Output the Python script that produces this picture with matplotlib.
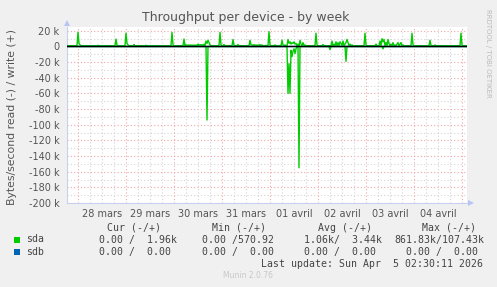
import numpy as np
import matplotlib
matplotlib.use("Agg")
import matplotlib.pyplot as plt
from matplotlib.patches import Polygon, Rectangle

# ---------------- data (hours since 27 mars 00:00, values in kB/s) ----------------
t_start, t_end, step = 18.5, 218.5, 0.5

write_base = 1.0
write_t = [24.0, 24.5, 25, 34, 43, 43.5, 48, 48.5, 49, 52, 58, 71, 71.5, 77, 78, 79, 80, 81, 82, 83,
           84, 85, 86, 87, 88, 88.5, 89, 89.5, 90, 95, 95.5, 97, 101.5, 102, 104, 110, 110.5,
           111, 112, 113, 114, 115, 116, 118, 119.5, 120, 122.5, 126, 126.5, 127.5,
           129, 129.5, 130, 130.5, 131, 131.5, 132, 132.5, 133, 134, 135, 135.5, 136.5, 137.5,
           143, 143.5, 146.5, 151, 152, 153, 154, 155, 155.5, 156.5, 157.5, 158, 158.5, 159, 160, 161,
           167.5, 168, 173, 175, 176, 176.5, 177, 178, 179, 179.5, 180.5, 181.5, 182.5, 183.5, 184,
           185, 185.5, 186.5, 191, 191.5, 200, 200.5, 202.5, 215.5, 216]
write_v = [18, 4, 2, 1.5, 9.5, 1.5, 17, 4, 2, 2.5, 1.5, 18, 2, 9.5, 2, 2, 2, 2, 2, 2,
           3, 2.5, 2.5, 3, 7, 4, 8, 5, 2, 18, 2, 2.5, 9, 1.5, 2.5, 8, 2,
           2, 2.5, 2, 2, 2.5, 2, 1.5, 19, 2, 2, 8, 2, 2,
           9, 4, 6, 3, 5, 4, 6, 3, 4, 3, 8, 3, 5, 2,
           17, 2, 2.5, 7, 3, 6, 5, 6, 4, 7, 3, 5, 9, 5, 3, 2,
           17, 2, 3, 7, 10, 6, 9, 5, 9, 4, 3, 5, 2, 3, 5,
           3, 5, 2, 17, 2, 8, 1.5, 2, 17, 2]

read_base = 0.0
read_t = [88.5, 129, 129.5, 130, 130.5, 131, 131.5, 132, 132.5, 133, 134.5, 150, 158, 176.5]
read_v = [-94, -60, -22, -60, -5, -13, -6, -3, -9, -3, -155, -4, -19, -3]

sdb_v = 0.0

day_labels = ["28 mars", "29 mars", "30 mars", "31 mars", "01 avril", "02 avril", "03 avril", "04 avril"]
y_ticks = [20, 0, -20, -40, -60, -80, -100, -120, -140, -160, -180, -200]

legend_names = ["sda", "sdb"]
legend_colors = ["#00CC00", "#0066B3"]
legend_cur = ["0.00 /  1.96k", "0.00 /  0.00"]
legend_min = ["0.00 /570.92", "0.00 /  0.00"]
legend_avg = ["1.06k/  3.44k", "0.00 /  0.00"]
legend_max = ["861.83k/107.43k", "  0.00 /  0.00"]
headers = ["Cur (-/+)", "Min (-/+)", "Avg (-/+)", "Max (-/+)"]

# ---------------- build series on 30-min grid ----------------
grid = np.arange(t_start, t_end + step / 2, step)
write = np.full(grid.shape, write_base)
read = np.full(grid.shape, read_base)
for t, v in zip(write_t, write_v):
    write[int(round((t - t_start) / step))] = v
for t, v in zip(read_t, read_v):
    read[int(round((t - t_start) / step))] = v
sdb = np.full(grid.shape, sdb_v)

# ---------------- figure ----------------
W, H = 497, 287
fig = plt.figure(figsize=(W / 100, H / 100), dpi=100)
fig.patch.set_facecolor("#F0F0F0")

def fx(px):
    return px / W

def fy(py):
    return 1 - py / H

ax = fig.add_axes([fx(67), fy(203), 400 / W, 176 / H])
ax.set_facecolor("white")
ax.set_xlim(t_start, t_end)
ax.set_ylim(-200, 24.9)

# grid
minor_c = "#D4D4D4"
major_c = "#F0A8A8"
dot = (0, (1, 2))
for yy in range(-190, 25, 10):
    if yy == 0:
        continue
    c = major_c if yy % 20 == 0 else minor_c
    ax.axhline(yy, color=c, lw=0.8, ls=dot, zorder=1)
ax.axhline(-200, color=major_c, lw=0.8, ls=dot, zorder=1)
for tt in np.arange(24, t_end, 6):
    c = major_c if tt % 24 == 0 else minor_c
    ax.axvline(tt, color=c, lw=0.8, ls=dot, zorder=1)

# data
ax.plot(grid, read, color="#00CC00", lw=1.0, zorder=3)
ax.plot(grid, write, color="#00CC00", lw=1.0, zorder=3)
ax.plot(grid, sdb, color="#0066B3", lw=1.0, zorder=3)
ax.axhline(0, color="black", lw=1.0, zorder=4)

# axes styling
for s in ["top", "right"]:
    ax.spines[s].set_visible(False)
for s in ["left", "bottom"]:
    ax.spines[s].set_color("#C8D0F0")
    ax.spines[s].set_linewidth(0.8)

txt_c = "#555555"
ax.set_yticks(y_ticks)
ax.set_yticklabels([("%d k" % v) if v != 0 else "0" for v in y_ticks])
ax.set_xticks([36 + 24 * i for i in range(len(day_labels))])
ax.set_xticklabels(day_labels)
ax.tick_params(axis="both", length=0, labelsize=7, colors=txt_c)
ax.tick_params(axis="y", pad=5.5)
ax.tick_params(axis="x", pad=4)

# arrows
arrow_c = "#B8C4F4"
fig.patches.append(Polygon([[fx(67), fy(20)], [fx(64), fy(26)], [fx(70), fy(26)]],
                           closed=True, transform=fig.transFigure, color=arrow_c, lw=0))
fig.patches.append(Polygon([[fx(474), fy(203)], [fx(468), fy(200)], [fx(468), fy(206)]],
                           closed=True, transform=fig.transFigure, color=arrow_c, lw=0))

# titles
fig.text(fx(246), fy(18), "Throughput per device - by week", ha="center", va="center",
         fontsize=9, color="#555555")
fig.text(fx(12), fy(117), "Bytes/second read (-) / write (+)", ha="center", va="center",
         rotation=90, fontsize=7.8, color=txt_c)
fig.text(fx(488), fy(53), "RRDTOOL / TOBI OETIKER", ha="center", va="center",
         rotation=270, fontsize=5, color="#BBBBBB")

# legend
mono = "DejaVu Sans Mono"
leg_c = "#444444"
hdr_x = [107, 212, 318, 422]
for h, x in zip(headers, hdr_x):
    fig.text(fx(x), fy(228), h, ha="left", va="center", fontsize=7.1, family=mono, color=leg_c)
col_x = [99, 202, 304, 394]
for i, name in enumerate(legend_names):
    yy = 239.5 + 12.3 * i
    fig.patches.append(Rectangle((fx(14), fy(yy + 3)), 6 / W, 6 / H,
                                 transform=fig.transFigure, color=legend_colors[i], lw=0))
    fig.text(fx(26), fy(yy), name, ha="left", va="center", fontsize=7.1, family=mono, color=leg_c)
    vals = [legend_cur[i], legend_min[i], legend_avg[i], legend_max[i]]
    for v, x in zip(vals, col_x):
        fig.text(fx(x), fy(yy), v, ha="left", va="center", fontsize=7.1, family=mono, color=leg_c)

fig.text(fx(483), fy(264), "Last update: Sun Apr  5 02:30:11 2026", ha="right", va="center",
         fontsize=7.1, family=mono, color=leg_c)
fig.text(fx(248), fy(276), "Munin 2.0.76", ha="center", va="center", fontsize=5.5,
         color="#C8C8C8")

fig.savefig("out.png", dpi=100, facecolor=fig.get_facecolor())
